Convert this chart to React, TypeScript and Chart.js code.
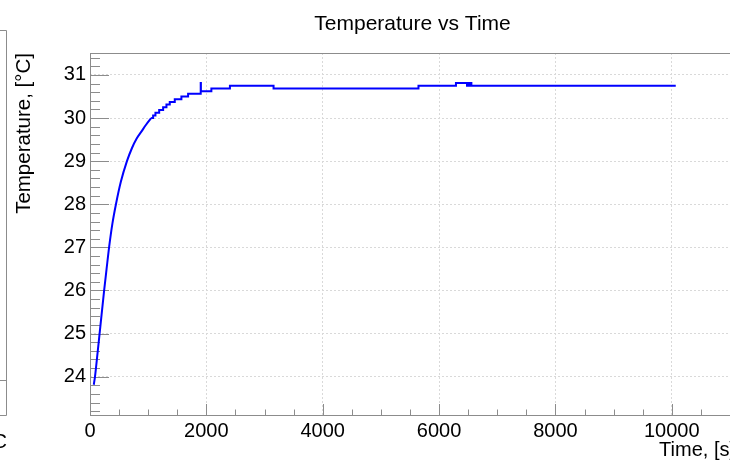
import React, { useEffect, useRef } from "react";
import { Chart, registerables } from "chart.js";

Chart.register(...registerables);

// ---- data ----
const riseTime = [65, 86, 130, 165, 200, 243, 285, 328, 385, 446, 530, 635, 720, 800, 886, 960, 1050];
const riseTemp = [23.8125, 24.0, 24.55, 25.0, 25.45, 26.0, 26.5, 27.0, 27.55, 28.0, 28.52, 29.0, 29.3, 29.52, 29.69, 29.84, 30.0];

const stepTime = [1050, 1085, 1125, 1189, 1257, 1314, 1371, 1457, 1571, 1686, 1903, 1906, 2086, 2405, 3155, 5646, 6290, 6480, 6500, 6520, 6540, 6555, 6570, 10068];
const stepTemp = [30.0, 30.0625, 30.125, 30.1875, 30.25, 30.3125, 30.375, 30.4375, 30.5, 30.5625, 30.8125, 30.625, 30.6875, 30.75, 30.6875, 30.75, 30.8125, 30.75, 30.8125, 30.75, 30.8125, 30.75, 30.75, 30.75];

const xTickLabels = [0, 2000, 4000, 6000, 8000, 10000];
const yTickLabels = [24, 25, 26, 27, 28, 29, 30, 31];

const chartTitle = "Temperature vs Time";
const xTitle = "Time, [s]";
const yTitle = "Temperature, [°C]";

const X_MIN = 0;
const X_MAX = 11069;
const Y_MIN = 23.11;
const Y_MAX = 31.51;
const X_MINOR = 500;
const Y_MINOR = 0.2;

const FONT = '"Liberation Sans", Arial, Helvetica, sans-serif';
const W = 760;
const H = 469;
const AXIS_COLOR = "#8c8c8c";

const decorPlugin = {
  id: "rootDecor",
  beforeDatasetsDraw(chart: any) {
    const { ctx, chartArea } = chart;
    const xs = chart.scales.x;
    const ys = chart.scales.y;
    const { left, right, top, bottom } = chartArea;
    ctx.save();
    ctx.strokeStyle = AXIS_COLOR;
    ctx.lineWidth = 1;
    // frame
    ctx.strokeRect(Math.round(left) + 0.5, Math.round(top) + 0.5, right - left, Math.round(bottom) - Math.round(top));
    // y ticks
    ctx.beginPath();
    const yStart = Math.ceil(Y_MIN / Y_MINOR) * Y_MINOR;
    for (let v = yStart; v <= Y_MAX + 1e-9; v += Y_MINOR) {
      const isMajor = Math.abs(v - Math.round(v)) < 1e-6;
      const py = Math.round(ys.getPixelForValue(v)) + 0.5;
      const len = isMajor ? 19 : 10;
      ctx.moveTo(left, py);
      ctx.lineTo(left + len, py);
    }
    // x ticks
    for (let v = X_MIN; v <= X_MAX + 1e-9; v += X_MINOR) {
      const isMajor = Math.abs(v % 2000) < 1e-6;
      const px = Math.round(xs.getPixelForValue(v)) + 0.5;
      const len = isMajor ? 11 : 5.5;
      ctx.moveTo(px, bottom);
      ctx.lineTo(px, bottom - len);
    }
    ctx.stroke();
    ctx.restore();
  },
  afterDraw(chart: any) {
    const { ctx, chartArea } = chart;
    ctx.save();
    ctx.fillStyle = "#000";
    // main title
    ctx.font = `21px ${FONT}`;
    ctx.textAlign = "center";
    ctx.textBaseline = "alphabetic";
    ctx.fillText(chartTitle, 412.5, 30);
    // x title (right aligned to axis end)
    ctx.font = `20px ${FONT}`;
    ctx.textAlign = "right";
    ctx.fillText(xTitle, chartArea.right + 1, 456);
    // y title (rotated, aligned to axis top)
    ctx.save();
    ctx.translate(29.5, chartArea.top);
    ctx.rotate(-Math.PI / 2);
    ctx.font = `20.5px ${FONT}`;
    ctx.textAlign = "right";
    ctx.fillText(yTitle, 0, 0);
    ctx.restore();
    // neighbouring pad remnants at the left edge
    ctx.strokeStyle = AXIS_COLOR;
    ctx.lineWidth = 1;
    ctx.beginPath();
    ctx.moveTo(0, 30.5);
    ctx.lineTo(6.5, 30.5);
    ctx.lineTo(6.5, 415.5);
    ctx.lineTo(0, 415.5);
    ctx.moveTo(0, 380.5);
    ctx.lineTo(6, 380.5);
    ctx.stroke();
    ctx.font = `20px ${FONT}`;
    ctx.textAlign = "right";
    ctx.fillText("C", 7, 448);
    ctx.restore();
  },
};

export default function App() {
  const ref = useRef<HTMLCanvasElement | null>(null);

  useEffect(() => {
    if (!ref.current) return;
    const chart = new Chart(ref.current, {
      type: "line",
      data: {
        datasets: [
          {
            data: riseTime.map((t, i) => ({ x: t, y: riseTemp[i] })),
            borderColor: "#0000ff",
            borderWidth: 2,
            pointRadius: 0,
            cubicInterpolationMode: "monotone",
            fill: false,
          },
          {
            data: stepTime.map((t, i) => ({ x: t, y: stepTemp[i] })),
            borderColor: "#0000ff",
            borderWidth: 2,
            pointRadius: 0,
            stepped: true,
            fill: false,
          },
        ],
      },
      options: {
        responsive: false,
        animation: false,
        devicePixelRatio: 1,
        layout: { padding: { top: 53, left: 0, right: W - 734, bottom: 0 } },
        plugins: {
          legend: { display: false },
          tooltip: { enabled: false },
          title: { display: false },
        },
        scales: {
          x: {
            type: "linear",
            min: X_MIN,
            max: X_MAX,
            afterFit: (s: any) => {
              s.height = 54;
            },
            afterBuildTicks: (s: any) => {
              s.ticks = xTickLabels.map((v) => ({ value: v }));
            },
            ticks: {
              color: "#000",
              font: { family: FONT, size: 20 },
              padding: 4,
              maxRotation: 0,
              autoSkip: false,
              callback: (v: any) => String(v),
            },
            grid: { color: "#d9d9d9", lineWidth: 1, drawTicks: false },
            border: { display: false, dash: [2, 2] },
          },
          y: {
            type: "linear",
            min: Y_MIN,
            max: Y_MAX,
            afterFit: (s: any) => {
              s.width = 90;
            },
            afterBuildTicks: (s: any) => {
              s.ticks = yTickLabels.map((v) => ({ value: v }));
            },
            ticks: {
              color: "#000",
              font: { family: FONT, size: 20 },
              padding: 4,
              autoSkip: false,
              callback: (v: any) => String(v),
            },
            grid: { color: "#d9d9d9", lineWidth: 1, drawTicks: false },
            border: { display: false, dash: [2, 2] },
          },
        },
      },
      plugins: [decorPlugin],
    } as any);
    return () => chart.destroy();
  }, []);

  return (
    <div
      style={{
        position: "fixed",
        left: 0,
        top: 0,
        width: 730,
        height: H,
        overflow: "hidden",
        background: "#fff",
      }}
    >
      <canvas ref={ref} width={W} height={H} style={{ display: "block", width: W, height: H }} />
    </div>
  );
}
